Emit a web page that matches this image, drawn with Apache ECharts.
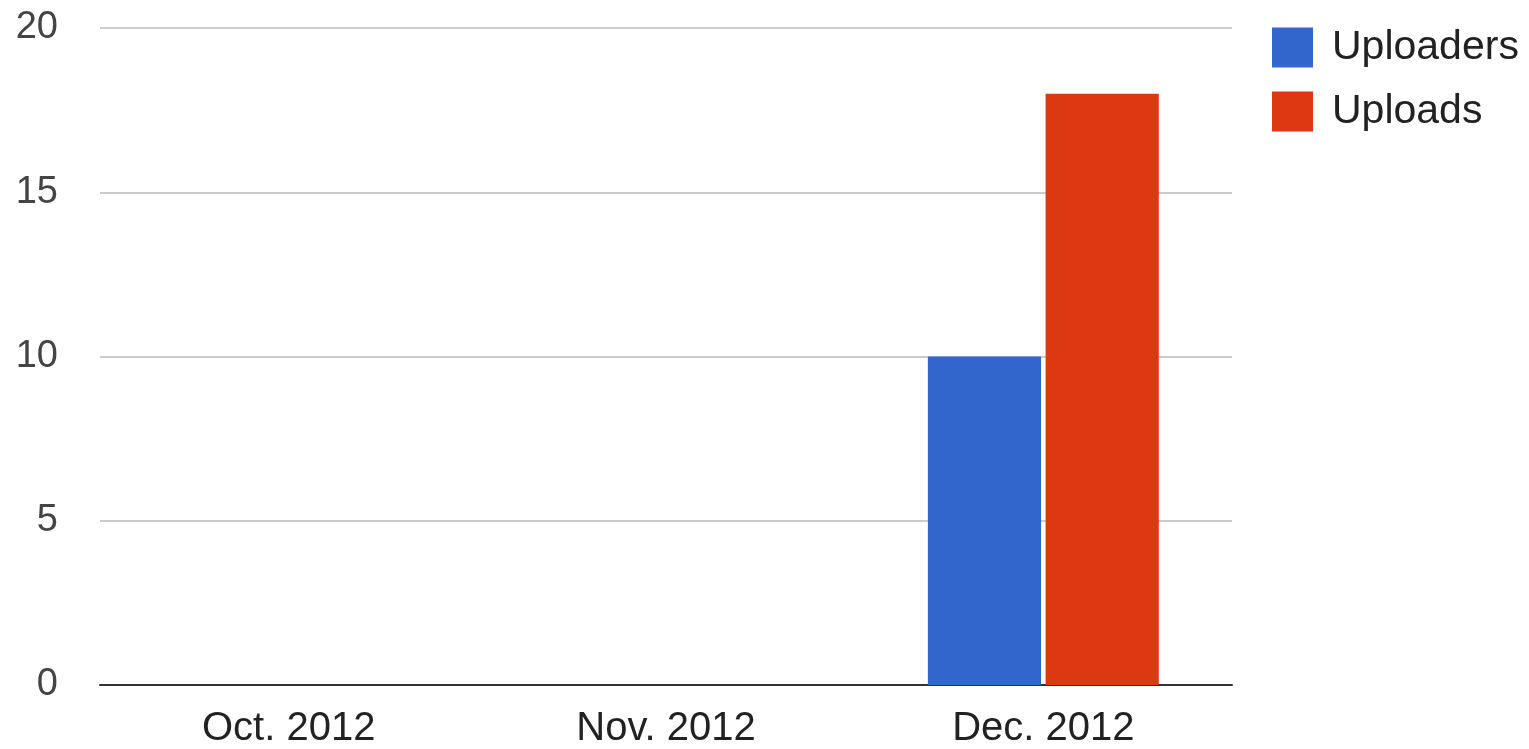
<!DOCTYPE html>
<html>
<head>
<meta charset="utf-8">
<script src="https://cdn.jsdelivr.net/npm/echarts@6/dist/echarts.min.js"></script>
<style>html,body{margin:0;padding:0;background:#fff;}#c{width:1529px;height:749px;}</style>
</head>
<body>
<div id="c"></div>
<script>
const categories = ['Oct. 2012', 'Nov. 2012', 'Dec. 2012'];
const uploaders = [0, 0, 10];
const uploads = [0, 0, 18];
const yTicks = [0, 5, 10, 15, 20];

const chart = echarts.init(document.getElementById('c'));
chart.setOption({
  backgroundColor: '#ffffff',
  animation: false,
  grid: { left: 100, right: 297, top: 28, bottom: 63, containLabel: false },
  legend: {
    orient: 'vertical',
    left: 1272,
    top: 27,
    padding: 0,
    itemWidth: 41,
    itemHeight: 40,
    itemGap: 23,
    icon: 'rect',
    textStyle: { fontFamily: 'Liberation Sans, Arial, sans-serif', fontSize: 41, color: '#222', padding: [0, 0, 0, 14] },
    data: ['Uploaders', 'Uploads']
  },
  xAxis: {
    type: 'category',
    data: categories,
    axisLine: { lineStyle: { color: '#333', width: 2 } },
    axisTick: { show: false },
    axisLabel: { fontFamily: 'Liberation Sans, Arial, sans-serif', fontSize: 40, color: '#222', margin: 24 }
  },
  yAxis: {
    type: 'value',
    min: yTicks[0],
    max: yTicks[yTicks.length - 1],
    interval: 5,
    axisLine: { show: false },
    axisTick: { show: false },
    splitLine: { lineStyle: { color: '#cccccc', width: 2 } },
    axisLabel: { fontFamily: 'Liberation Sans, Arial, sans-serif', fontSize: 38, color: '#444', margin: 42 }
  },
  series: [
    { name: 'Uploaders', type: 'bar', data: uploaders, itemStyle: { color: '#3366CC' }, barGap: '4%', barCategoryGap: '38.8%' },
    { name: 'Uploads', type: 'bar', data: uploads, itemStyle: { color: '#DC3912' }, barGap: '4%', barCategoryGap: '38.8%' }
  ]
});
</script>
</body>
</html>
